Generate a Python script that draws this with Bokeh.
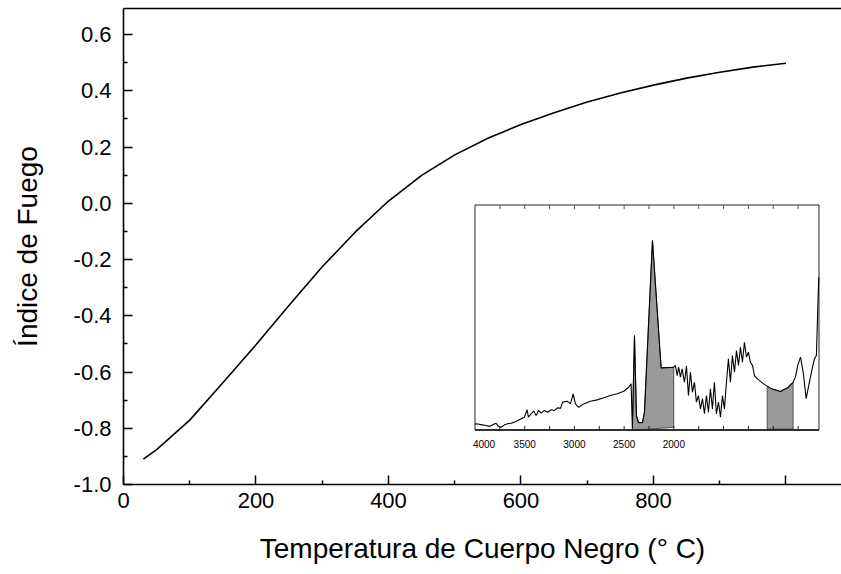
from bokeh.plotting import figure
from bokeh.models import Range1d, FixedTicker, LinearAxis, PrintfTickFormatter, ColumnDataSource
from bokeh.core.properties import value
from bokeh.embed import file_html
from bokeh.resources import INLINE
import numpy as np

# ---------------- main chart data ----------------
temperature_c = [30, 50, 100, 150, 200, 250, 300, 350, 400, 450, 500,
                 550, 600, 650, 700, 750, 800, 850, 900, 950, 1000]
fire_index = [-0.91, -0.876, -0.771, -0.638, -0.503, -0.363, -0.226, -0.102,
              0.008, 0.099, 0.172, 0.231, 0.28, 0.322, 0.36, 0.392, 0.42,
              0.445, 0.466, 0.484, 0.498]

x_ticks = [0, 200, 400, 600, 800, 1000]
x_tick_labels = ["0", "200", "400", "600", "800", ""]
x_minor_ticks = [100, 300, 500, 700, 900]
y_ticks = [-1.0, -0.8, -0.6, -0.4, -0.2, 0.0, 0.2, 0.4, 0.6]
y_minor_ticks = [-0.9, -0.7, -0.5, -0.3, -0.1, 0.1, 0.3, 0.5]

# ---------------- inset spectrum data ----------------
inset_wavenumber = [4000, 3989, 3939, 3888, 3855, 3822, 3788, 3765, 3737, 3704,
                    3671, 3637, 3604, 3570, 3536, 3503, 3476, 3463, 3436, 3409,
                    3385, 3362, 3335, 3302, 3269, 3234, 3201, 3168, 3141, 3118,
                    3073, 3040, 3013, 2990, 2957, 2906, 2839, 2772, 2705, 2638,
                    2570, 2504, 2454, 2430, 2417, 2396, 2376, 2356, 2316, 2296,
                    2215, 2128, 2001, 1984, 1967, 1951, 1934, 1917, 1893, 1873,
                    1853, 1833, 1813, 1793, 1773, 1753, 1732, 1712, 1692, 1672,
                    1652, 1632, 1612, 1592, 1572, 1551, 1531, 1511, 1491, 1471,
                    1451, 1431, 1411, 1390, 1370, 1350, 1330, 1310, 1290, 1270,
                    1250, 1230, 1209, 1189, 1162, 1129, 1096, 1061, 1028, 995,
                    961, 928, 895, 860, 827, 800, 777, 754, 726, 699,
                    669, 643, 609, 586, 566, 543]
inset_signal = [0.026, 0.028, 0.024, 0.020, 0.016, 0.023, 0.030, 0.016, 0.012, 0.023,
                0.028, 0.030, 0.035, 0.042, 0.050, 0.057, 0.090, 0.057, 0.072, 0.084,
                0.064, 0.087, 0.075, 0.087, 0.079, 0.090, 0.087, 0.099, 0.096, 0.124,
                0.128, 0.116, 0.161, 0.116, 0.101, 0.116, 0.128, 0.134, 0.143, 0.153,
                0.161, 0.172, 0.190, 0.205, 0.007, 0.420, 0.064, 0.033, 0.033, 0.078,
                0.842, 0.276, 0.279, 0.287, 0.242, 0.279, 0.235, 0.272, 0.212, 0.284,
                0.153, 0.257, 0.168, 0.212, 0.124, 0.153, 0.094, 0.139, 0.072, 0.153,
                0.079, 0.183, 0.094, 0.212, 0.072, 0.124, 0.057, 0.153, 0.094, 0.212,
                0.316, 0.212, 0.331, 0.257, 0.353, 0.287, 0.368, 0.301, 0.390, 0.324,
                0.346, 0.301, 0.287, 0.242, 0.228, 0.216, 0.205, 0.195, 0.186, 0.180,
                0.176, 0.171, 0.180, 0.186, 0.201, 0.212, 0.235, 0.287, 0.324, 0.257,
                0.139, 0.198, 0.272, 0.316, 0.331, 0.679]

band_start = [2420, 1061]
band_end = [2001, 800]
band_base_start = [-0.002, 0.004]
band_base_end = [0.012, 0.004]

inset_ticks = [4000, 3500, 3000, 2500, 2000, 1500, 1000, 500]
inset_tick_labels = ["4000", "3500", "3000", "2500", "2000", "", "", ""]
inset_minor_ticks = [3750, 3250, 2750, 2250, 1750, 1250, 750]

# inset axis limits (wavenumber runs right-to-left, signal 0..1)
inset_x_start, inset_x_end = 4000, 540
inset_y_start, inset_y_end = 0.0, 1.0

FONT = "Liberation Sans"

# ---------------- geometry (pixels) ----------------
FRAME_W, FRAME_H = 718, 476
INSET_LEFT, INSET_BOTTOM = 351.5, 54.5     # offset of inset box inside main frame
INSET_W, INSET_H = 344, 225
TICK_PX = 4

# ---------------- main figure ----------------
p = figure(frame_width=FRAME_W, frame_height=FRAME_H,
           x_range=Range1d(0, 1083.8), y_range=Range1d(-1.0, 0.6925),
           output_backend="svg", toolbar_location=None,
           min_border_left=123, min_border_right=0, min_border_top=8,
           min_border_bottom=0)
p.outline_line_color = None
p.xgrid.grid_line_color = None
p.ygrid.grid_line_color = None
p.background_fill_color = "white"
p.border_fill_color = "white"

p.line(temperature_c, fire_index, line_color="black", line_width=1.6)

xa = p.xaxis[0]
xa.ticker = FixedTicker(ticks=x_ticks, minor_ticks=x_minor_ticks)
xa.major_label_overrides = dict(zip(x_ticks, x_tick_labels))
xa.axis_label = "Temperatura de Cuerpo Negro (° C)"

ya = p.yaxis[0]
ya.ticker = FixedTicker(ticks=y_ticks, minor_ticks=y_minor_ticks)
ya.formatter = PrintfTickFormatter(format="%.1f")
ya.axis_label = "Índice de Fuego"

for ax in (xa, ya):
    ax.axis_line_width = 1.6
    ax.axis_line_color = "black"
    ax.major_tick_in = 9
    ax.major_tick_out = 0
    ax.minor_tick_in = 4
    ax.minor_tick_out = 0
    ax.major_tick_line_width = 1.5
    ax.minor_tick_line_width = 1.5
    ax.major_tick_line_color = "black"
    ax.minor_tick_line_color = "black"
    ax.major_label_text_font = FONT
    ax.major_label_text_font_size = "22px"
    ax.major_label_text_color = "black"
    ax.axis_label_text_font = FONT
    ax.axis_label_text_font_size = "28px"
    ax.axis_label_text_font_style = "normal"
    ax.axis_label_text_color = "black"

xa.major_label_standoff = 8
xa.axis_label_standoff = 22
ya.major_label_standoff = 12
ya.axis_label_standoff = 28

top = LinearAxis(ticker=FixedTicker(ticks=[]), axis_line_width=1.6,
                 axis_line_color="black", major_tick_line_color=None,
                 minor_tick_line_color=None, major_label_text_font_size="0px",
                 major_label_standoff=0, major_tick_in=0, major_tick_out=0)
p.add_layout(top, "above")

# ---------------- inset drawn on its own scales ----------------
ux = (inset_x_start - inset_x_end) / INSET_W      # wavenumber per pixel
uy = (inset_y_end - inset_y_start) / INSET_H      # signal per pixel
p.extra_x_ranges = {"wn": Range1d(inset_x_start + INSET_LEFT * ux,
                                  inset_x_end - (FRAME_W - INSET_LEFT - INSET_W) * ux)}
p.extra_y_ranges = {"ab": Range1d(inset_y_start - INSET_BOTTOM * uy,
                                  inset_y_end + (FRAME_H - INSET_BOTTOM - INSET_H) * uy)}
R = dict(x_range_name="wn", y_range_name="ab")

# inset panel
p.quad(left=[inset_x_start], right=[inset_x_end], bottom=[inset_y_start],
       top=[inset_y_end], fill_color="white", line_color="#222222",
       line_width=1, **R)

w = np.array(inset_wavenumber, dtype=float)
s = np.array(inset_signal, dtype=float)
for b0, b1, y0, y1 in zip(band_start, band_end, band_base_start, band_base_end):
    m = (w <= b0) & (w >= b1)
    xs = [b0] + list(w[m]) + [b1]
    ys = [y0] + list(s[m]) + [y1]
    p.patch(xs, ys, fill_color="#9a9a9a", line_color="#333333",
            line_width=0.8, **R)

p.line(inset_wavenumber, inset_signal, line_color="black", line_width=1.1, **R)

# inset tick marks (inside, bottom and top)
all_ticks = np.array(inset_ticks + inset_minor_ticks, dtype=float)
inner = all_ticks[(all_ticks < inset_x_start) & (all_ticks > inset_x_end)]
tl = TICK_PX * uy
p.segment(x0=inner, y0=[inset_y_start] * len(inner), x1=inner,
          y1=[inset_y_start + tl] * len(inner), line_color="#222222",
          line_width=1, **R)
p.segment(x0=inner, y0=[inset_y_end] * len(inner), x1=inner,
          y1=[inset_y_end - tl] * len(inner), line_color="#555555",
          line_width=1, **R)
# inset bottom axis line
p.segment(x0=[inset_x_start], y0=[inset_y_start], x1=[inset_x_end],
          y1=[inset_y_start], line_color="#111111", line_width=1.3, **R)

# inset tick labels
lab = [(t, l) for t, l in zip(inset_ticks, inset_tick_labels) if l]
label_nudge = [9 if t == inset_x_start else 0 for t, _ in lab]
src = ColumnDataSource(dict(x=[t for t, _ in lab], y=[inset_y_start] * len(lab),
                            text=[l for _, l in lab], xo=label_nudge))
p.text(x="x", y="y", text="text", x_offset="xo", y_offset=14, source=src,
       text_font=value(FONT), text_font_size="10px", text_align="center",
       text_baseline="middle", text_color="black", **R)

open("out.html", "w").write(file_html(p, INLINE))
